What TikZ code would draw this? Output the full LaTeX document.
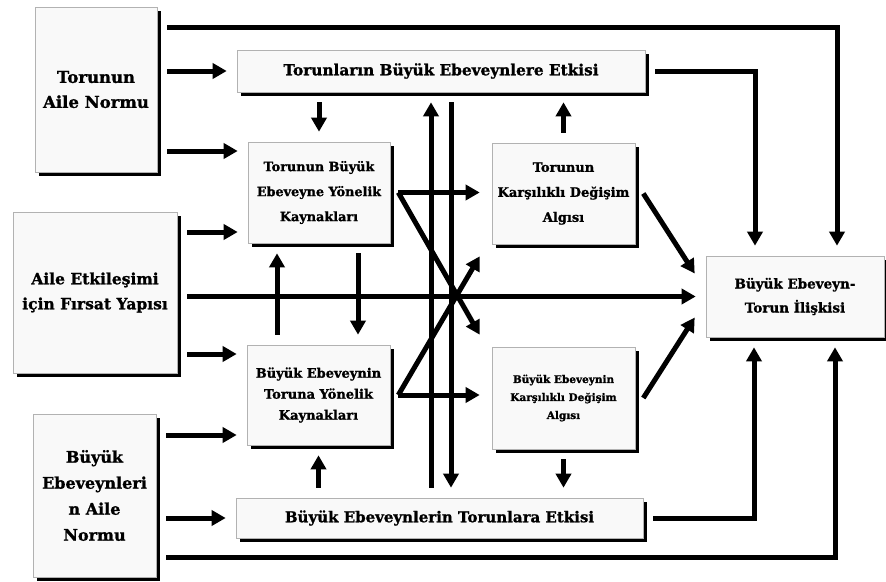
\documentclass[tikz,border=0pt]{standalone}
\usepackage{amsmath,amssymb}
\usepackage{fontspec}
\setmainfont{DejaVu Serif}[BoldFeatures={FakeBold=1.2}]
\usepackage{tikz}
\usetikzlibrary{arrows.meta,shadows}

\tikzset{
  kutu/.style={draw=gray!60, line width=0.6pt, fill=gray!5, align=center, inner sep=2pt,
    drop shadow={shadow xshift=3.5pt, shadow yshift=-3.5pt, fill=black, opacity=1}},
  ok/.style={line width=5pt, -{Triangle[length=14pt,width=15pt]},
    shorten <=10pt, shorten >=10pt}
}

\begin{document}
\begin{tikzpicture}[x=1pt,y=-1pt] % Model
   \useasboundingbox (0,0) rectangle (886,581);
   % sol kutular
   \node[kutu, minimum width=122pt, minimum height=165pt, font=\bfseries\fontsize{16.5}{25}\selectfont] (A) at (96,89.5) {Torunun\\Aile Normu};
   \node[kutu, minimum width=164pt, minimum height=161pt, font=\bfseries\fontsize{15.5}{25}\selectfont] (B) at (95,292.5) {Aile Etkileşimi\\için Fırsat Yapısı};
   \node[kutu, minimum width=123pt, minimum height=163pt, font=\bfseries\fontsize{16}{26}\selectfont] (C) at (94.5,495.5) {Büyük\\Ebeveynleri\\n Aile\\Normu};
   % orta kutular
   \node[kutu, minimum width=408pt, minimum height=42pt, font=\bfseries\fontsize{15.3}{18}\selectfont] (T1) at (441,71) {Torunların Büyük Ebeveynlere Etkisi};
   \node[kutu, minimum width=407pt, minimum height=40pt, font=\bfseries\fontsize{15}{18}\selectfont] (T2) at (439.5,518) {Büyük Ebeveynlerin Torunlara Etkisi};
   \node[kutu, minimum width=142pt, minimum height=101pt, font=\bfseries\fontsize{12.8}{25}\selectfont] (D) at (319,192.5) {Torunun Büyük\\Ebeveyne Yönelik\\Kaynakları};
   \node[kutu, minimum width=143pt, minimum height=101pt, font=\bfseries\fontsize{13}{25}\selectfont] (E) at (563.5,193.5) {Torunun\\Karşılıklı Değişim\\Algısı};
   \node[kutu, minimum width=143pt, minimum height=100pt, font=\bfseries\fontsize{13}{21}\selectfont] (F) at (318.5,395) {Büyük Ebeveynin\\Toruna Yönelik\\Kaynakları};
   \node[kutu, minimum width=143pt, minimum height=102pt, font=\bfseries\fontsize{10.5}{18}\selectfont] (G) at (563.5,398) {Büyük Ebeveynin\\Karşılıklı Değişim\\Algısı};
   \node[kutu, minimum width=178pt, minimum height=81pt, font=\bfseries\fontsize{13.5}{24}\selectfont] (R) at (795,296.5) {Büyük Ebeveyn-\\Torun İlişkisi};

   % yatay oklar
   \draw[ok] (A.east |- T1.west) -- (T1.west);
   \draw[ok] (A.east |- 0,151) -- (D.west |- 0,151);
   \draw[ok] (B.east |- 0,232) -- (D.west |- 0,232);
   \draw[ok] (B.east |- R.west) -- (R.west);
   \draw[ok] (B.east |- 0,354) -- (F.west |- 0,354);
   \draw[ok] (C.east |- 0,435) -- (F.west |- 0,435);
   \draw[ok] (C.east |- T2.west) -- (T2.west);

   % dikey oklar
   \draw[ok] (D.north |- T1.south) -- (D.north);
   \draw[ok] (E.north) -- (E.north |- T1.south);
   \draw[ok] (F.north -| 277,0) -- (D.south -| 277,0);
   \draw[ok] (D.south -| 358,0) -- (F.north -| 358,0);
   \draw[ok] (F.south |- T2.north) -- (F.south);
   \draw[ok] (G.south) -- (G.south |- T2.north);
   \draw[ok] (T2.north -| 431,0) -- (T1.south -| 431,0);
   \draw[ok] (T1.south -| 451,0) -- (T2.north -| 451,0);

   % capraz oklar
   \coordinate (ds) at ([xshift=8pt]D.east);
   \coordinate (fs) at ([xshift=8pt]F.east);
   \coordinate (es) at ([xshift=8pt]E.east);
   \coordinate (gs) at ([xshift=8pt]G.east);
   \coordinate (gucu) at ([xshift=-12pt,yshift=12pt]G.north west);
   \coordinate (eucu) at ([xshift=-12pt,yshift=-12pt]E.south west);
   \coordinate (rust) at ([xshift=-11pt,yshift=23pt]R.west);
   \coordinate (ralt) at ([xshift=-11pt,yshift=-21pt]R.west);
   \draw[ok, shorten <=0pt, shorten >=12pt] (ds) -- (E.west |- ds);
   \draw[ok, shorten <=0pt, shorten >=0pt] (ds) -- (gucu);
   \draw[ok, shorten <=0pt, shorten >=12pt] (fs) -- (G.west |- fs);
   \draw[ok, shorten <=0pt, shorten >=0pt] (fs) -- (eucu);
   \draw[ok, shorten <=0pt, shorten >=0pt] (es) -- (rust);
   \draw[ok, shorten <=0pt, shorten >=0pt] (gs) -- (ralt);

   % sonuca giden uzun oklar
   \draw[ok] ([yshift=-21pt]A.north east) -| ([xshift=42pt]R.north);
   \draw[ok] (T1.east) -| ([xshift=-40pt]R.north);
   \draw[ok] (T2.east) -| ([xshift=-41pt]R.south);
   \draw[ok] ([yshift=-62pt]C.east) -| ([xshift=40pt]R.south);
\end{tikzpicture}
\end{document}
